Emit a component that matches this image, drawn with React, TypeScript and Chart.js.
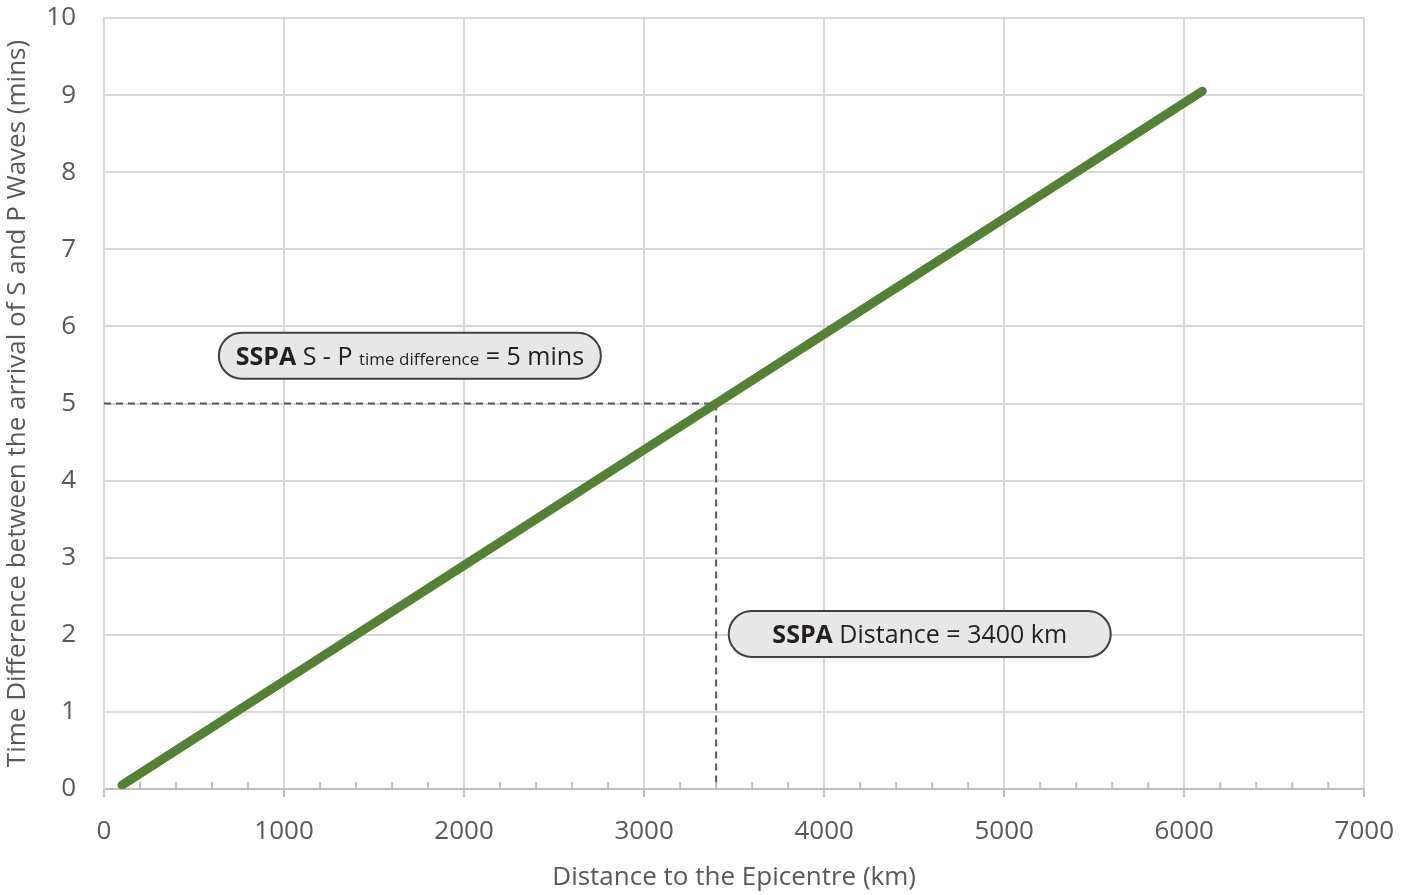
import React, { useEffect, useRef } from "react";
import { Chart, registerables } from "chart.js";

Chart.register(...registerables);

// ---- data ----
const distanceKm = [100, 1000, 2000, 3000, 3400, 4000, 5000, 6100];
const timeDiffMins = [0.05, 1.4, 2.9, 4.4, 5.0, 5.9, 7.4, 9.05];

const readTime = 5; // mins
const readDistance = 3400; // km

const xMax = 7000;
const xMajorStep = 1000;
const xMinorStep = 200;
const yMax = 10;
const yStep = 1;

const xTitle = "Distance to the Epicentre (km)";
const yTitle = "Time Difference between the arrival of S and P Waves (mins)";

// annotation anchors (data coords: left edge x, centre y)
const noteAnchorX = [638, 3470];
const noteAnchorY = [5.62, 2.01];
const noteParts = [
  [
    { t: "SSPA", bold: true, small: false },
    { t: " S - P ", bold: false, small: false },
    { t: "time difference", bold: false, small: true },
    { t: " = 5 mins", bold: false, small: false },
  ],
  [
    { t: "SSPA", bold: true, small: false },
    { t: " Distance = 3400 km", bold: false, small: false },
  ],
];

const FONT = "'Open Sans', 'Noto Sans', sans-serif";
const TEXT_GREY = "#595959";
const GRID = "#d9d9d9";

const minorTicksPlugin = {
  id: "minorTicks",
  afterDraw(chart: any) {
    const { ctx, scales } = chart;
    const x = scales.x;
    const y = scales.y;
    const y0 = y.getPixelForValue(0);
    ctx.save();
    ctx.strokeStyle = "#bfbfbf";
    ctx.lineWidth = 2;
    for (let v = xMinorStep; v < xMax; v += xMinorStep) {
      if (v % xMajorStep === 0) continue;
      const px = x.getPixelForValue(v);
      ctx.beginPath();
      ctx.moveTo(px, y0);
      ctx.lineTo(px, y0 - 7);
      ctx.stroke();
    }
    ctx.restore();
  },
};

const notesPlugin = {
  id: "notes",
  afterDatasetsDraw(chart: any) {
    const { ctx, scales } = chart;
    const x = scales.x;
    const y = scales.y;
    const boxW = 382;
    const boxH = 46;
    const r = boxH / 2;
    ctx.save();
    noteParts.forEach((parts, i) => {
      const left = x.getPixelForValue(noteAnchorX[i]);
      const cy = y.getPixelForValue(noteAnchorY[i]);
      const top = cy - boxH / 2;
      ctx.beginPath();
      ctx.moveTo(left + r, top);
      ctx.lineTo(left + boxW - r, top);
      ctx.arc(left + boxW - r, cy, r, -Math.PI / 2, Math.PI / 2);
      ctx.lineTo(left + r, top + boxH);
      ctx.arc(left + r, cy, r, Math.PI / 2, (3 * Math.PI) / 2);
      ctx.closePath();
      ctx.fillStyle = "#e7e7e8";
      ctx.fill();
      ctx.strokeStyle = "#404040";
      ctx.lineWidth = 2;
      ctx.stroke();

      const fontFor = (p: any) =>
        `${p.bold ? "bold " : ""}${p.small ? 17 : 25}px ${FONT}`;
      let total = 0;
      parts.forEach((p) => {
        ctx.font = fontFor(p);
        total += ctx.measureText(p.t).width;
      });
      let tx = left + (boxW - total) / 2;
      ctx.fillStyle = "#231f20";
      ctx.textBaseline = "alphabetic";
      ctx.textAlign = "left";
      const base = cy + 9;
      parts.forEach((p) => {
        ctx.font = fontFor(p);
        ctx.fillText(p.t, tx, base);
        tx += ctx.measureText(p.t).width;
      });
    });
    ctx.restore();
  },
};

export default function App() {
  const ref = useRef<HTMLCanvasElement>(null);
  useEffect(() => {
    if (!ref.current) return;
    const chart = new Chart(ref.current, {
      type: "line",
      data: {
        datasets: [
          {
            label: "S-P",
            data: distanceKm.map((d, i) => ({ x: d, y: timeDiffMins[i] })),
            borderColor: "#548235",
            borderWidth: 9,
            borderCapStyle: "round",
            borderJoinStyle: "round",
            pointRadius: 0,
            tension: 0,
            order: 1,
          },
          {
            label: "h",
            data: [
              { x: 0, y: readTime },
              { x: readDistance, y: readTime },
            ],
            borderColor: "#595959",
            borderWidth: 2,
            borderDash: [7, 5],
            pointRadius: 0,
            order: 2,
          },
          {
            label: "v",
            data: [
              { x: readDistance, y: readTime },
              { x: readDistance, y: 0 },
            ],
            borderColor: "#595959",
            borderWidth: 2,
            borderDash: [7, 5],
            pointRadius: 0,
            order: 2,
          },
        ],
      },
      options: {
        animation: false,
        responsive: true,
        maintainAspectRatio: false,
        layout: { padding: { top: 18, right: 48, left: 0, bottom: 0 } },
        plugins: { legend: { display: false }, tooltip: { enabled: false } },
        scales: {
          x: {
            type: "linear",
            min: 0,
            max: xMax,
            afterFit: (s: any) => {
              s.height = 106;
            },
            ticks: {
              stepSize: xMajorStep,
              color: TEXT_GREY,
              font: { family: FONT, size: 26 },
              padding: 19,
              maxRotation: 0,
              callback: (v: any) => String(v),
            },
            grid: {
              color: GRID,
              lineWidth: 2,
              tickLength: 8,
              tickColor: "#bfbfbf",
            },
            border: { display: true, color: "#bfbfbf", width: 2 },
            title: {
              display: true,
              text: xTitle,
              color: TEXT_GREY,
              font: { family: FONT, size: 26 },
              padding: { top: 0, bottom: 2 },
            },
          },
          y: {
            type: "linear",
            min: 0,
            max: yMax,
            afterFit: (s: any) => {
              s.width = 104;
              s.paddingTop = 0;
              s.paddingBottom = 0;
            },
            ticks: {
              stepSize: yStep,
              color: TEXT_GREY,
              font: { family: FONT, size: 26 },
              padding: 28,
            },
            grid: { color: GRID, lineWidth: 2, drawTicks: false },
            border: { display: true, color: GRID, width: 2 },
            title: {
              display: true,
              text: yTitle,
              color: TEXT_GREY,
              font: { family: FONT, size: 26 },
              padding: { top: 2, bottom: 0 },
            },
          },
        },
      },
      plugins: [minorTicksPlugin, notesPlugin],
    } as any);
    return () => chart.destroy();
  }, []);
  return (
    <div style={{ position: "absolute", left: 0, top: 0, width: 1413, height: 895 }}>
      <canvas ref={ref} />
    </div>
  );
}
